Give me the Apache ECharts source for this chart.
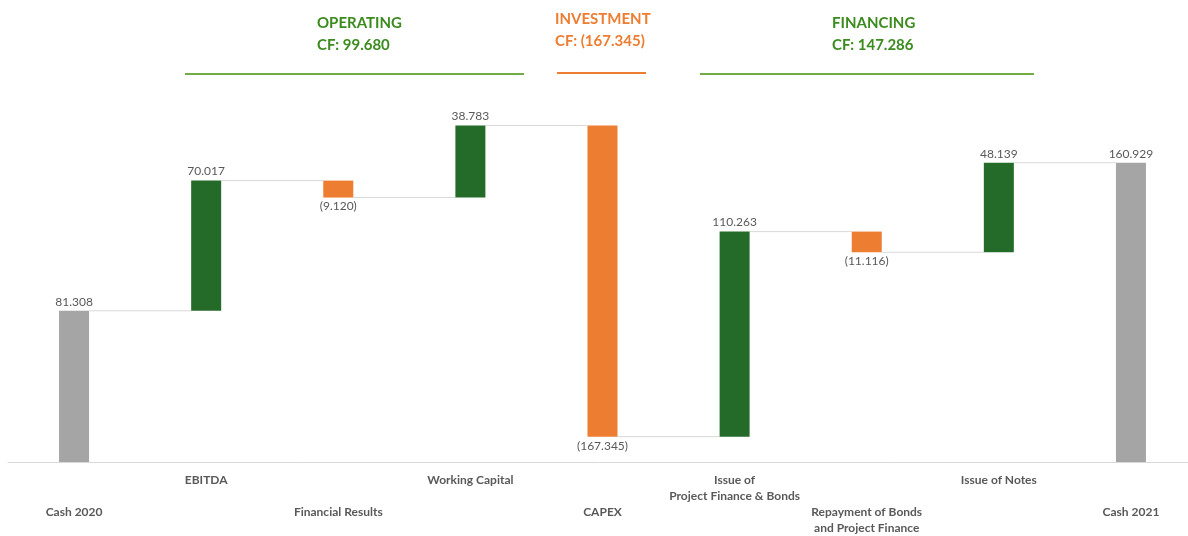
<!DOCTYPE html>
<html>
<head>
<meta charset="utf-8">
<script src="https://cdn.jsdelivr.net/npm/echarts@6/dist/echarts.min.js"></script>
<style>
  html, body { margin: 0; padding: 0; background: #fff; }
  #chart { width: 1188px; height: 536px; }
</style>
</head>
<body>
<div id="chart"></div>
<script>
const categories = ['Cash 2020', 'EBITDA', 'Financial Results', 'Working Capital', 'CAPEX',
  'Issue of\nProject Finance & Bonds', 'Repayment of Bonds\nand Project Finance', 'Issue of Notes', 'Cash 2021']
const deltas = [81.308, 70.017, -9.120, 38.783, -167.345, 110.263, -11.116, 48.139, 160.929]
const kinds = ['total', 'up', 'down', 'up', 'down', 'up', 'down', 'up', 'total']
const headers = ['OPERATING\nCF: 99.680', 'INVESTMENT\nCF: (167.345)', 'FINANCING\nCF: 147.286']

const grey = '#a5a5a5'
const green = '#246b29'
const orange = '#ed7d31'
const labelColor = '#595959'
const font = 'Lato, "Open Sans", sans-serif'

// build waterfall pieces
const base = []
const bars = []
const levels = []
let run = 0
for (let i = 0; i < deltas.length; i++) {
  const d = deltas[i]
  let color = grey
  if (kinds[i] === 'total') {
    base.push(0)
    bars.push(d)
    run = d
  } else if (d >= 0) {
    base.push(run)
    bars.push(d)
    run += d
    color = green
  } else {
    run += d
    base.push(run)
    bars.push(-d)
    color = orange
  }
  bars[i] = {
    value: bars[i],
    itemStyle: { color: color },
    label: { position: d < 0 ? 'bottom' : 'top' }
  }
  levels.push([i, run])
}
levels.pop()

function fmt (v) {
  const s = Math.abs(v).toFixed(3)
  return v < 0 ? '(' + s + ')' : s
}

const chart = echarts.init(document.getElementById('chart'))
const option = {
  animation: false,
  grid: { left: 8, width: 1189, top: 91, bottom: 74, outerBoundsMode: 'none' },
  xAxis: {
    type: 'category',
    data: categories,
    axisLine: { lineStyle: { color: '#d9d9d9', width: 1 } },
    axisTick: { show: false },
    axisLabel: {
      interval: 0,
      margin: 10,
      color: labelColor,
      fontFamily: font,
      fontWeight: 'bold',
      fontSize: 12,
      lineHeight: 16,
      verticalAlign: 'top',
      formatter: function (v, i) {
        return i % 2 === 0 ? '\n\n' + v : v
      }
    }
  },
  yAxis: { type: 'value', min: 0, max: 199.5, show: false },
  series: [
    {
      type: 'bar',
      stack: 'w',
      data: base,
      barWidth: 30,
      itemStyle: { color: 'transparent' },
      silent: true
    },
    {
      type: 'bar',
      stack: 'w',
      data: bars,
      barWidth: 30,
      label: {
        show: true,
        color: labelColor,
        fontFamily: font,
        fontSize: 12,
        distance: 3,
        formatter: function (p) {
          return fmt(deltas[p.dataIndex])
        }
      }
    },
    {
      type: 'custom',
      data: levels,
      z: 1,
      renderItem: function (params, api) {
        const p = api.coord([api.value(0), api.value(1)])
        const w = api.size([1, 0])[0]
        return {
          type: 'line',
          shape: { x1: p[0] + 15, y1: p[1], x2: p[0] + w - 15, y2: p[1] },
          style: { stroke: '#d9d9d9', lineWidth: 1 }
        }
      }
    }
  ],
  graphic: [
    { type: 'text', left: 317, top: 12, style: { text: headers[0], fill: '#3b8b1e', font: 'bold 15px ' + font, lineHeight: 22 } },
    { type: 'line', shape: { x1: 185, y1: 74, x2: 524, y2: 74 }, style: { stroke: '#70ad47', lineWidth: 2 } },
    { type: 'text', left: 555, top: 8, style: { text: headers[1], fill: orange, font: 'bold 15px ' + font, lineHeight: 22 } },
    { type: 'line', shape: { x1: 557, y1: 73, x2: 646, y2: 73 }, style: { stroke: orange, lineWidth: 2 } },
    { type: 'text', left: 832, top: 12, style: { text: headers[2], fill: '#3b8b1e', font: 'bold 15px ' + font, lineHeight: 22 } },
    { type: 'line', shape: { x1: 700, y1: 74, x2: 1034, y2: 74 }, style: { stroke: '#70ad47', lineWidth: 2 } }
  ]
}
chart.setOption(option)
</script>
</body>
</html>
